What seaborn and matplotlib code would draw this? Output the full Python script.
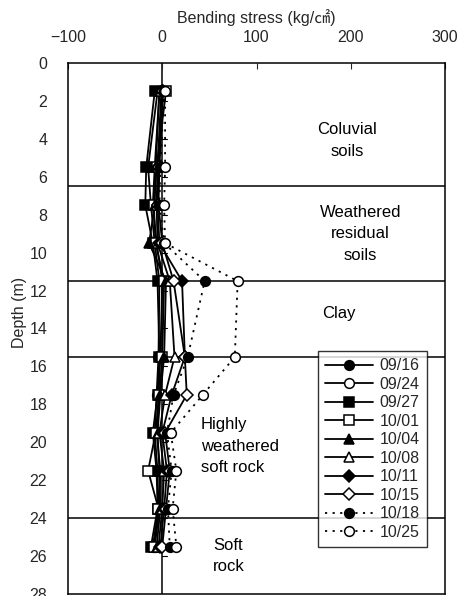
import matplotlib
matplotlib.use("Agg")
import matplotlib.pyplot as plt
import seaborn as sns

# Measurement depths (m)
depths = [1.5, 5.5, 7.5, 9.5, 11.5, 15.5, 17.5, 19.5, 21.5, 23.5, 25.5]

# Bending stress (kg/cm2) for each survey date
s_0916 = [-5, -15, -12, -8, -3, -4, -6, -8, -5, -4, -10]
s_0924 = [-3, -8, -10, -6, 0, -2, -4, -6, -2, -3, -8]
s_0927 = [-8, -17, -18, -10, -5, -3, -5, -10, -6, -5, -12]
s_1001 = [4, -6, -9, -7, 2, 0, -3, -7, -15, -4, -9]
s_1004 = [-3, -7, -8, -14, 4, 2, -2, -5, -3, -2, -6]
s_1008 = [-1, -5, -6, -5, 8, 13, 3, -3, 2, 0, -4]
s_1011 = [0, -4, -5, -3, 21, 24, 10, 0, 5, 2, -2]
s_1015 = [1, -3, -4, 0, 12, 24, 26, 3, 8, 4, 0]
s_1018 = [2, -2, -3, 2, 45, 27, 12, 5, 10, 6, 8]
s_1025 = [3, 3, 2, 3, 80, 77, 43, 9, 15, 11, 15]

dates = ["09/16", "09/24", "09/27", "10/01", "10/04",
         "10/08", "10/11", "10/15", "10/18", "10/25"]
series = [s_0916, s_0924, s_0927, s_1001, s_1004,
          s_1008, s_1011, s_1015, s_1018, s_1025]

# Layer boundaries (m)
boundaries = [6.5, 11.5, 15.5, 24.0]
xticks = [-100, 0, 100, 200, 300]
xticklabels = ["\u2212100", "0", "100", "200", "300"]
yticks = list(range(0, 30, 2))

# marker, filled, line style for each date
dotted = (0, (1.2, 3))
styles = [
    ("o", True, "-"), ("o", False, "-"), ("s", True, "-"), ("s", False, "-"),
    ("^", True, "-"), ("^", False, "-"), ("D", True, "-"), ("D", False, "-"),
    ("o", True, dotted), ("o", False, dotted),
]

sns.set_style("white")
plt.rcParams["font.family"] = ["Liberation Sans", "Noto Sans CJK KR", "DejaVu Sans"]
FS = 11.5

fig = plt.figure(figsize=(4.67, 5.96), dpi=100)
ax = fig.add_axes([68 / 467, 2 / 596, (445 - 68) / 467, (594 - 63) / 596])

for vals, name, (mk, filled, ls) in zip(series, dates, styles):
    ms = 7 if mk != "D" else 6
    sns.lineplot(x=vals, y=depths, sort=False, estimator=None, ax=ax,
                 color="black", linewidth=1.3, linestyle=ls,
                 marker=mk, markersize=ms,
                 markerfacecolor="black" if filled else "white",
                 markeredgecolor="black", markeredgewidth=1.1,
                 label=name)

for b in boundaries:
    ax.axhline(b, color="black", linewidth=1.1, zorder=0)
ax.axvline(0, color="black", linewidth=1.1, zorder=0)

# small depth ticks along the zero line
for t in yticks[1:]:
    ax.plot([0, 5], [t, t], color="black", linewidth=0.8, zorder=0)

ax.set_xlim(-100, 300)
ax.set_ylim(28, 0)
ax.set_xticks(xticks)
ax.set_yticks(yticks)
ax.set_xticklabels(xticklabels)
ax.xaxis.tick_top()
ax.xaxis.set_label_position("top")
ax.tick_params(axis="x", direction="in", length=4, width=0.8, labelsize=FS,
               pad=13, top=True, bottom=False)
ax.tick_params(axis="y", length=0, labelsize=FS, pad=15)
ax.set_xlabel("Bending stress (kg/\u33a0)", fontsize=FS, labelpad=5)
ax.set_ylabel("Depth (m)", fontsize=FS)
ax.yaxis.set_label_coords(-0.11, 0.53)

for sp in ax.spines.values():
    sp.set_color("black")
    sp.set_linewidth(1.1)

txt = dict(fontsize=12, color="black", va="center", linespacing=1.55)
ax.text(196, 4.1, "Coluvial\nsoils", ha="center", **txt)
ax.text(210, 9.0, "Weathered\nresidual\nsoils", ha="center", **txt)
ax.text(187, 13.2, "Clay", ha="center", **txt)
ax.text(41, 20.2, "Highly\nweathered\nsoft rock", ha="left", **txt)
ax.text(54, 26.0, "Soft\nrock", ha="left", **txt)

leg = ax.legend(loc="upper right", bbox_to_anchor=(427 / 467, 1 - 351 / 596),
                bbox_transform=fig.transFigure, borderaxespad=0,
                fontsize=FS, frameon=True, fancybox=False, handlelength=3.0,
                labelspacing=0.22, handletextpad=0.4, borderpad=0.45)
leg.get_frame().set_edgecolor("black")
leg.get_frame().set_linewidth(1.0)

fig.savefig("out.png", dpi=100)
